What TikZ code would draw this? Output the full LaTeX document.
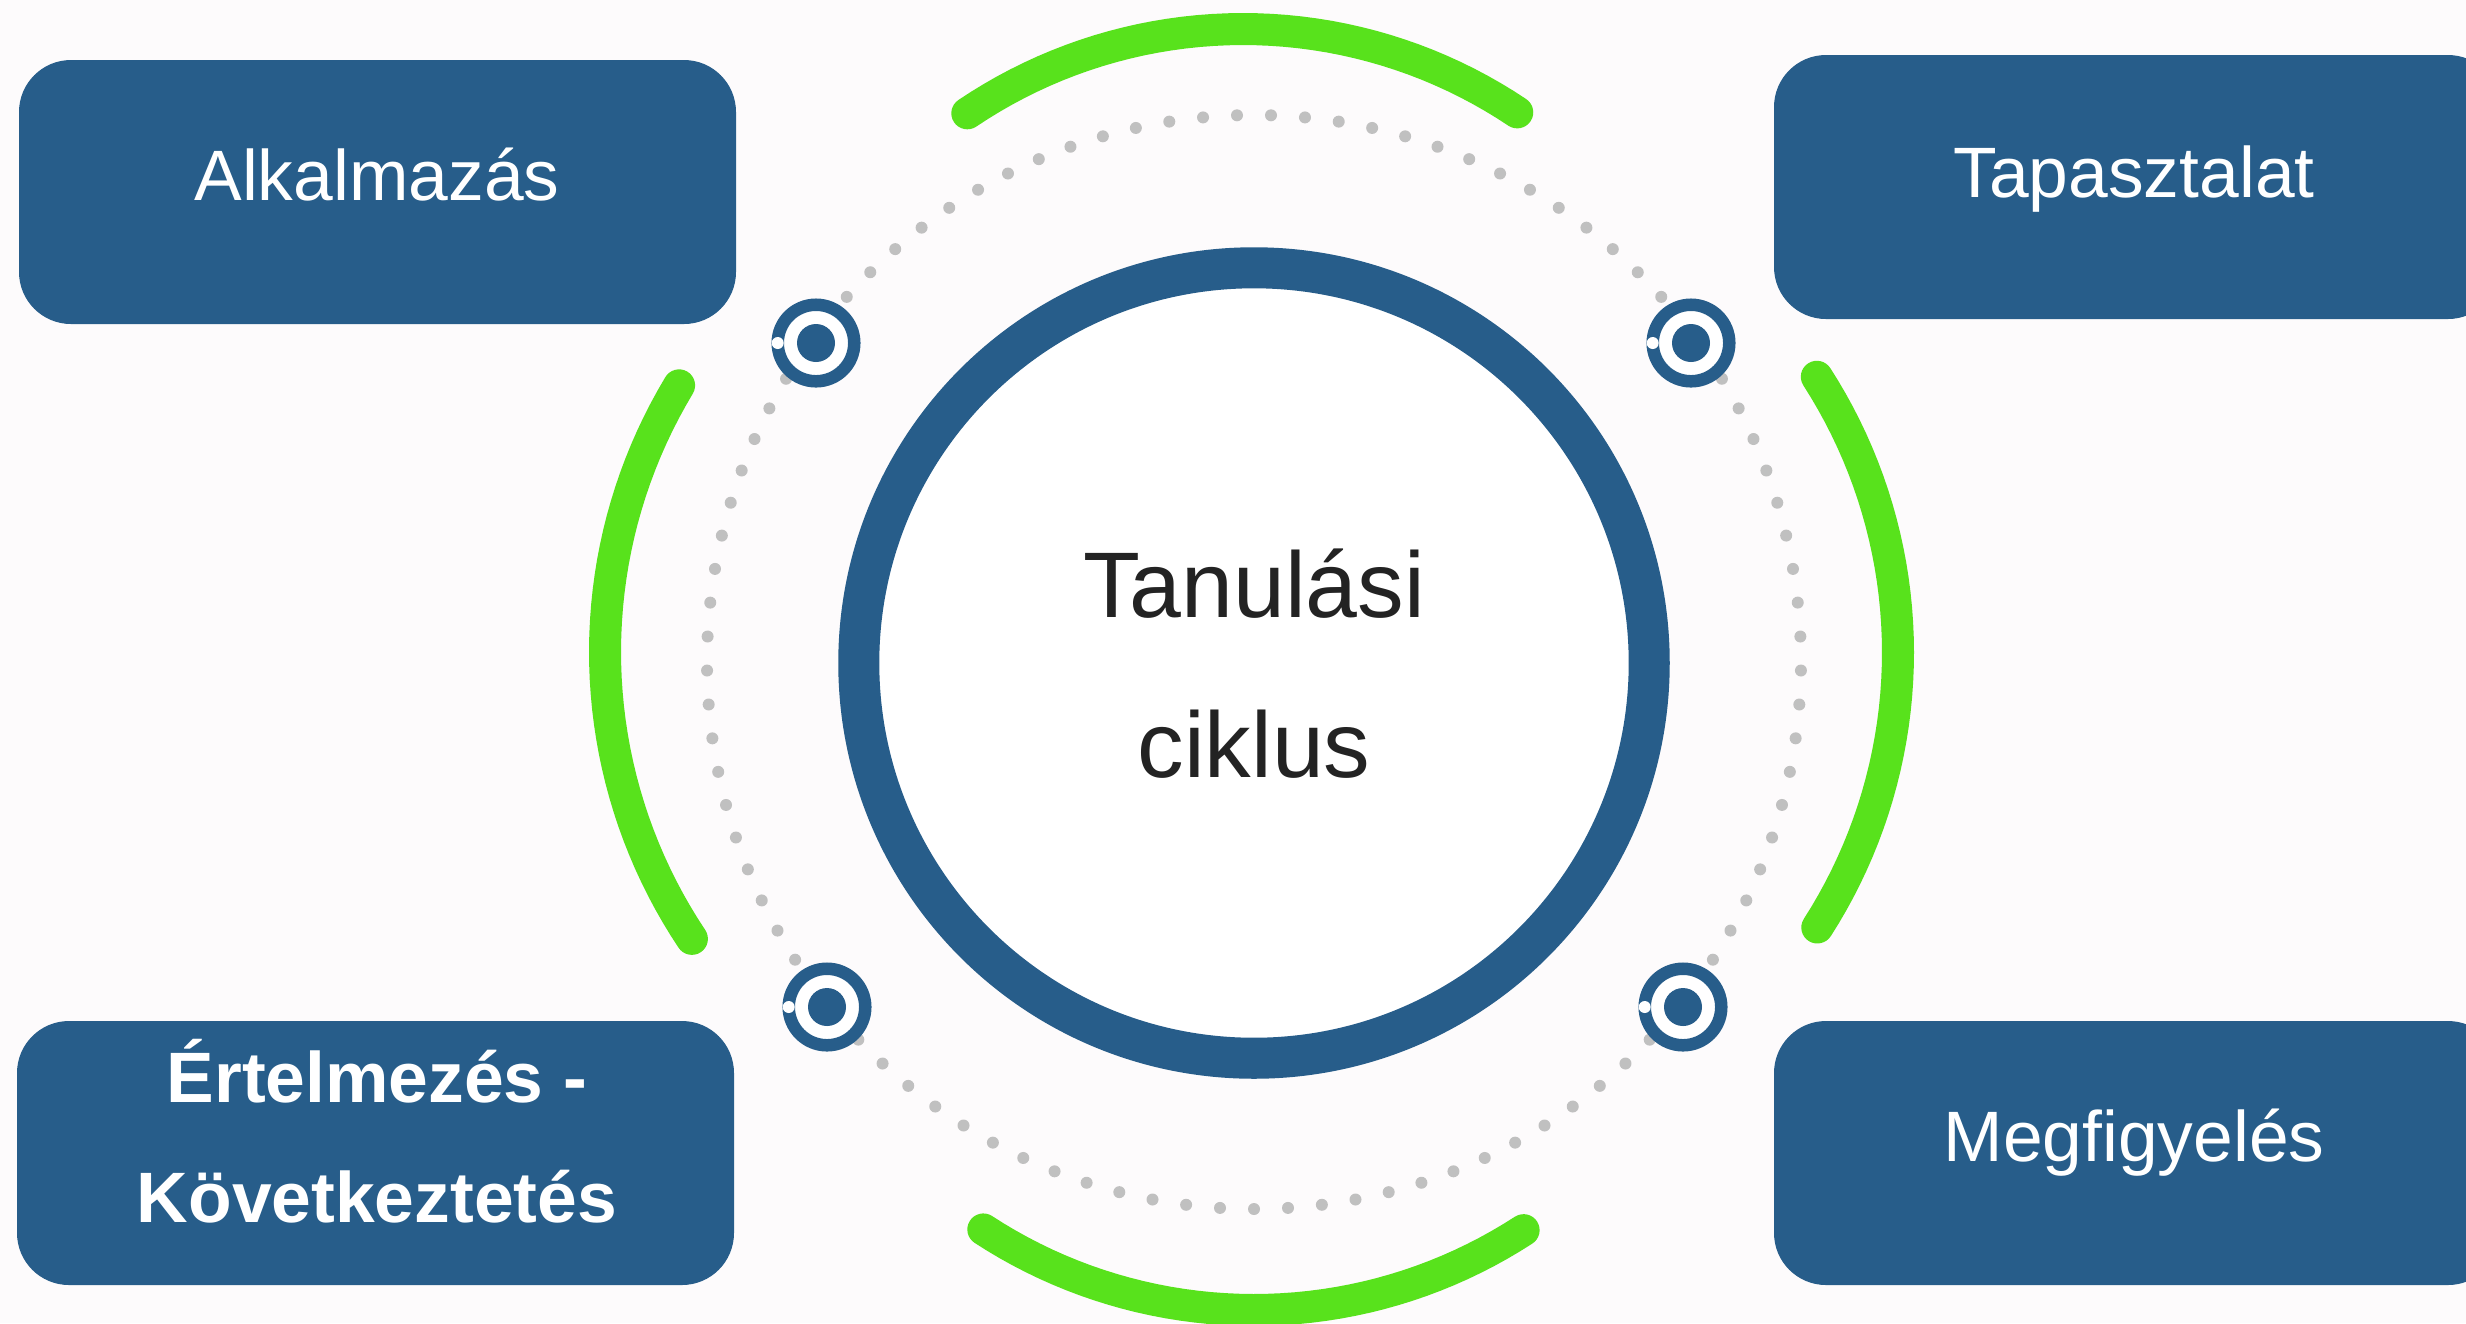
\documentclass[tikz,border=0pt]{standalone}
\usepackage{fontspec}
\setmainfont{Liberation Sans}
\definecolor{bg}{RGB}{253,251,252}
\definecolor{navy}{RGB}{39,93,138}
\definecolor{lime}{RGB}{88,226,28}
\definecolor{dotgray}{RGB}{192,192,192}
\definecolor{ink}{RGB}{35,35,35}
% #1,#2 centre (px), #3 radius, #4 -> #5 angles (degrees, counter-clockwise on the page)
\newcommand\garc[5]{%
  \draw[greenarc] plot[variable=\k, samples at={0,1,...,40}]
    ({#1+#3*cos(#4+\k*(#5-#4)/40)}, {#2-#3*sin(#4+\k*(#5-#4)/40)});}
\begin{document}
\begin{tikzpicture}[x=0.01cm,y=-0.01cm,
  box/.style={fill=navy, rounded corners=0.52cm},
  boxtext/.style={text=white, font=\fontsize{20.3}{34.1}\selectfont, anchor=base, align=center, inner sep=0},
  greenarc/.style={draw=lime, line width=0.32cm, line cap=round, line join=round},
  target/.style={circle, draw=navy, line width=0.125cm, fill=white, minimum size=0.765cm, inner sep=0, outer sep=0},
  ring/.style={circle, draw=navy, line width=0.41cm, fill=white, minimum size=7.9cm, inner sep=0, outer sep=0}]
\useasboundingbox (0,0) rectangle (2466,1323);
\fill[bg] (0,0) rectangle (2466,1323);
\clip (0,0) rectangle (2466,1323);

% dotted circle
\foreach \i in {0,...,100}
  \fill[dotgray] ({1254+547*cos(270+\i*3.56436)}, {662-547*sin(270+\i*3.56436)}) circle (6);

% green arcs
\garc{1243}{522}{493}{56.2}{124.0}
\garc{1389}{652.5}{509}{-32.7}{32.8}
\garc{1122}{652}{517}{148.95}{213.7}
\garc{1254}{815}{495}{236.85}{303.0}

% central circle
\node[ring] (cycle) at (1254,663) {};
\node[text=ink, font=\fontsize{26.5}{45.5}\selectfont, anchor=base, align=center, inner sep=0] (cycletext) at (1254,777) {Tanulási\\ciklus};

% targets
\foreach \n/\p in {tl/{(816,343)}, tr/{(1691,343)}, bl/{(827,1007)}, br/{(1683,1007)}} {
  \node[target] (\n) at \p {};
  \fill[navy] (\n.center) circle (19);
  \fill[white] (\n.west) circle (6);
}

% boxes
\fill[box] (19,60) rectangle (736,324);
\fill[box] (1774,55) rectangle (2500,319);
\fill[box] (1774,1021) rectangle (2500,1285);
\fill[box] (17,1021) rectangle (734,1285);

\node[boxtext] (alk) at (377,200) {Alkalmazás};
\node[boxtext] (tap) at (2134,197) {Tapasztalat};
\node[boxtext] (meg) at (2134,1161) {Megfigyelés};
\node[boxtext, font=\fontsize{20.3}{34.1}\selectfont\bfseries] (ert) at (377,1222) {Értelmezés -\\Következtetés};
\end{tikzpicture}
\end{document}
